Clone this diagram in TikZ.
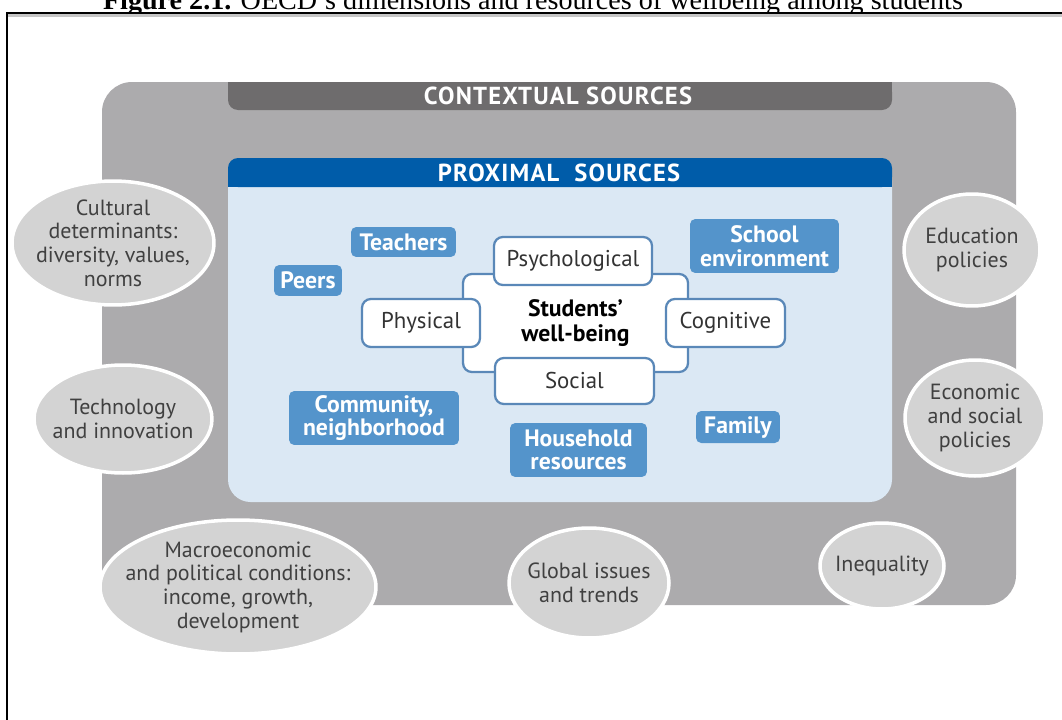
\documentclass[tikz,border=0pt]{standalone}
\usepackage{fontspec}
\setmainfont{PT Sans}
\newfontfamily\captionfont{Liberation Serif}
\newfontfamily\headfont[LetterSpace=5]{PT Sans}
\usetikzlibrary{shapes.geometric}
\definecolor{ctxgray}{HTML}{ACABAD}
\definecolor{hdrgray}{HTML}{6E6C6D}
\definecolor{panelblue}{HTML}{DBE8F4}
\definecolor{bandblue}{HTML}{005CA9}
\definecolor{resblue}{HTML}{5494CB}
\definecolor{dimblue}{HTML}{5A88B8}
\definecolor{ellgray}{HTML}{D3D3D3}
\definecolor{txtgray}{HTML}{404040}
\tikzset{
	resbox/.style={fill=resblue, rounded corners=3pt, text=white, font=\fontsize{13.5}{13.5}\selectfont\bfseries, align=center, inner sep=0pt},
	dimbox/.style={draw=dimblue, line width=1.3pt, fill=white, rounded corners=5pt, text=black!80, font=\fontsize{13}{14}\selectfont, align=center, inner sep=0pt},
	srcell/.style={ellipse, fill=ellgray, draw=white, line width=2pt, inner sep=0pt},
	srctext/.style={text=txtgray, font=\fontsize{12.5}{13.5}\selectfont, align=center},
	hdrtext/.style={text=white, font=\headfont\fontsize{14}{15}\selectfont\bfseries}
}

\begin{document}
\begin{tikzpicture}[x=0.02cm, y=-0.02cm]
	\useasboundingbox (0,0) rectangle (1062,720);
	\node[anchor=base, font=\captionfont\fontsize{16}{18}\selectfont] (title) at (533,10) {\textbf{Figure 2.1.} OECD’s dimensions and resources of wellbeing among students};
	\fill[gray!45] (8,14) rectangle (1062,17);
	\draw[line width=0.04cm] (7,720) -- (7,13) -- (1062,13);
	\fill[ctxgray, rounded corners=0.6cm] (102,82) rectangle (1016,605);
	\fill[hdrgray, rounded corners=0.2cm] (228,82) rectangle (892,110);
	\fill[hdrgray] (228,82) rectangle (892,95);
	\node[hdrtext] (ctxhead) at (558,96) {CONTEXTUAL SOURCES};
	\fill[panelblue, rounded corners=0.45cm] (228,158) rectangle (892,502);
	\fill[bandblue, rounded corners=0.2cm] (228,158) rectangle (892,187);
	\fill[bandblue] (228,172) rectangle (892,187);
	\node[hdrtext] (proxhead) at (559,173) {PROXIMAL\ \ SOURCES};

	\node[resbox, minimum width=2.1cm, minimum height=0.6cm] (teachers) at (403.5,242) {Teachers};
	\node[resbox, minimum width=1.36cm, minimum height=0.62cm] (peers) at (308,280.5) {Peers};
	\node[resbox, minimum width=2.98cm, minimum height=1.08cm] (school) at (764.5,246) {School\\environment};
	\node[resbox, minimum width=3.4cm, minimum height=1.08cm] (community) at (374,418) {Community,\\neighborhood};
	\node[resbox, minimum width=2.74cm, minimum height=1.08cm] (household) at (578.5,450) {Household\\resources};
	\node[resbox, minimum width=1.68cm, minimum height=0.64cm] (family) at (738,427) {Family};

	\node[dimbox, minimum width=4.5cm, minimum height=1.96cm, text=black, font=\fontsize{13.5}{14.5}\selectfont\bfseries] (wellbeing) at (575.5,323) {Students’\\well-being};
	\node[dimbox, minimum width=3.16cm, minimum height=0.96cm] (psych) at (573,261) {Psychological};
	\node[dimbox, minimum width=2.36cm, minimum height=0.96cm] (physical) at (421,323) {Physical};
	\node[dimbox, minimum width=2.38cm, minimum height=0.96cm] (cognitive) at (725.5,323) {Cognitive};
	\node[dimbox, minimum width=3.18cm, minimum height=0.92cm] (social) at (574.5,381) {Social};

	\node[srcell, minimum width=4.04cm, minimum height=2.48cm] (cultural) at (113,243) {};
	\node[srctext] at (cultural) {Cultural\\determinants:\\diversity, values,\\norms};
	\node[srcell, minimum width=2.72cm, minimum height=2.24cm] (education) at (972,250) {};
	\node[srctext] at (education) {Education\\policies};
	\node[srcell, minimum width=3.56cm, minimum height=2.16cm] (technology) at (123,419) {};
	\node[srctext] at (technology) {Technology\\and innovation};
	\node[srcell, minimum width=2.8cm, minimum height=2.32cm] (economic) at (975,418) {};
	\node[srctext] at (economic) {Economic\\and social\\policies};
	\node[srcell, minimum width=5.52cm, minimum height=2.68cm] (macro) at (238,587) {};
	\node[srctext] at (macro) {Macroeconomic\\and political conditions:\\income, growth,\\development};
	\node[srcell, minimum width=3.2cm, minimum height=2.2cm] (global) at (589,583) {};
	\node[srctext] at (global) {Global issues\\and trends};
	\node[srcell, minimum width=2.48cm, minimum height=1.72cm] (inequality) at (882,566) {};
	\node[srctext] at (inequality) {Inequality};
\end{tikzpicture}
\end{document}
